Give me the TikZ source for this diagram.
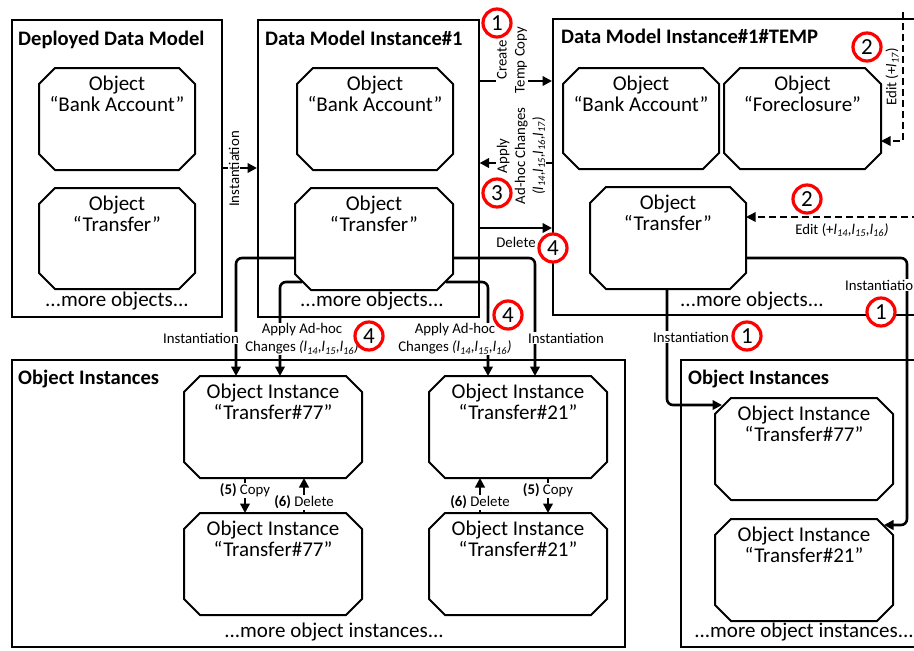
\documentclass[tikz,border=0pt]{standalone}
\usepackage{fontspec}
\setmainfont{Carlito}
\usetikzlibrary{arrows.meta}

\tikzset{
  frm/.style={draw, line width=1.6pt, inner sep=0pt, anchor=north west},
  obj/.style={inner sep=0pt, outer sep=1pt, anchor=north west},
  octline/.style={line width=2pt, line join=miter},
  otext/.style={anchor=north, inner sep=0pt, align=center, font=\fontsize{21}{21}\selectfont},
  ttl/.style={anchor=base west, inner sep=0pt, font=\fontsize{20.6}{21}\selectfont\bfseries},
  more/.style={anchor=base, inner sep=0pt, font=\fontsize{21}{21}\selectfont},
  conn/.style={line width=2.6pt, -{Triangle[length=9.5pt,width=9.5pt]}},
  dconn/.style={line width=1.4pt, dash pattern=on 7pt off 4pt, -{Triangle[length=9.5pt,width=9.5pt]}},
  lbl/.style={font=\fontsize{14.8}{18}\selectfont, inner sep=1pt, fill=white, align=center},
  num/.style={circle, draw=red, line width=3.2pt, minimum size=28pt, inner sep=0pt, fill=white, font=\fontsize{23}{23}\selectfont},
}

\begin{document}
\begin{tikzpicture}[x=1pt, y=-1pt]
\useasboundingbox (0,0) rectangle (914,651);

% ---------- frames ----------
\node[frm, minimum width=210pt, minimum height=297pt] (ddm) at (11,19) {};
\node[frm, minimum width=221pt, minimum height=297pt] (dmi) at (257,19) {};
\node[frm, minimum width=420pt, minimum height=296pt] (tmp) at (552,18) {};
\node[frm, minimum width=613pt, minimum height=287pt] (oiL) at (11,359) {};
\node[frm, minimum width=300pt, minimum height=287pt] (oiR) at (680,359) {};

\node[ttl] (ddmT) at (18,45) {Deployed Data Model};
\node[ttl] (dmiT) at (265,45) {Data Model Instance\#1};
\node[ttl] (tmpT) at (561,43) {Data Model Instance\#1\#TEMP};
\node[ttl] (oiLT) at (18,384) {Object Instances};
\node[ttl] (oiRT) at (688,384) {Object Instances};

% ---------- objects ----------
\node[obj, minimum width=154pt, minimum height=100pt] (ba1) at (39,68) {};
\node[obj, minimum width=154pt, minimum height=99pt]  (tr1) at (39,188) {};
\node[obj, minimum width=154pt, minimum height=100pt] (ba2) at (297,68) {};
\node[obj, minimum width=156pt, minimum height=100pt] (tr2) at (295,188) {};
\node[obj, minimum width=154pt, minimum height=99pt]  (ba3) at (563,68) {};
\node[obj, minimum width=155pt, minimum height=99pt]  (fc)  at (724,68) {};
\node[obj, minimum width=154pt, minimum height=100pt] (tr3) at (590,187) {};
\node[obj, minimum width=176pt, minimum height=100pt] (oA) at (184,376) {};
\node[obj, minimum width=176pt, minimum height=100pt] (oB) at (184,513) {};
\node[obj, minimum width=176pt, minimum height=100pt] (pA) at (429,376) {};
\node[obj, minimum width=176pt, minimum height=100pt] (pB) at (429,513) {};
\node[obj, minimum width=176pt, minimum height=100pt] (rA) at (715,398) {};
\node[obj, minimum width=176pt, minimum height=100pt] (rB) at (715,519) {};

\foreach \n in {ba1,tr1,ba2,tr2,ba3,fc,tr3,oA,oB,pA,pB,rA,rB}
  \draw[octline] ([xshift=16pt]\n.north west) -- ([xshift=-16pt]\n.north east)
    -- ([yshift=-16pt]\n.north east) -- ([yshift=16pt]\n.south east)
    -- ([xshift=-16pt]\n.south east) -- ([xshift=16pt]\n.south west)
    -- ([yshift=16pt]\n.south west) -- ([yshift=-16pt]\n.north west) -- cycle;

\node[otext] (ba1t) at ([yshift=-8pt]ba1.north) {Object\\“Bank Account”};
\node[otext] (tr1t) at ([yshift=-8pt]tr1.north) {Object\\“Transfer”};
\node[otext] (ba2t) at ([yshift=-8pt]ba2.north) {Object\\“Bank Account”};
\node[otext] (tr2t) at ([yshift=-8pt]tr2.north) {Object\\“Transfer”};
\node[otext] (ba3t) at ([yshift=-8pt]ba3.north) {Object\\“Bank Account”};
\node[otext] (fct)  at ([yshift=-8pt]fc.north)  {Object\\“Foreclosure”};
\node[otext] (tr3t) at ([yshift=-8pt]tr3.north) {Object\\“Transfer”};
\node[otext] (oAt) at ([yshift=-8pt]oA.north) {Object Instance\\“Transfer\#77”};
\node[otext] (oBt) at ([yshift=-8pt]oB.north) {Object Instance\\“Transfer\#77”};
\node[otext] (pAt) at ([yshift=-8pt]pA.north) {Object Instance\\“Transfer\#21”};
\node[otext] (pBt) at ([yshift=-8pt]pB.north) {Object Instance\\“Transfer\#21”};
\node[otext] (rAt) at ([yshift=-8pt]rA.north) {Object Instance\\“Transfer\#77”};
\node[otext] (rBt) at ([yshift=-8pt]rB.north) {Object Instance\\“Transfer\#21”};

\node[more] (m1) at (117,306) {...more objects...};
\node[more] (m2) at (372,306) {...more objects...};
\node[more] (m3) at (752,306) {...more objects...};
\node[more] (m4) at (334,637) {...more object instances...};
\node[more] (m5) at (804,637) {...more object instances...};

% ---------- helper levels ----------
\coordinate (yInst)  at (0,168);
\coordinate (yCopy)  at (0,81);
\coordinate (yApply) at (0,163);
\coordinate (yDel)   at (0,228);
\coordinate (yEditF) at (0,141);
\coordinate (yT)     at (0,258);
\coordinate (yB)     at (0,525);
\coordinate (xR)     at (907,0);
\coordinate (xL)     at (667,0);
\coordinate (editTop)   at (903,12);
\coordinate (editRight) at (930,217);

% ---------- model level connectors ----------
\draw[conn] (ddm.east |- yInst) -- (dmi.west |- yInst);
\draw[conn] (dmi.east |- yCopy) -- (tmp.west |- yCopy);
\draw[conn] (tmp.west |- yApply) -- (dmi.east |- yApply);
\draw[conn] (dmi.east |- yDel) -- (tmp.west |- yDel);
\draw[dconn] (editTop) |- (fc.east |- yEditF);
\draw[dconn] (editRight) -- (tr3.east |- editRight);

% ---------- instantiation connectors ----------
\draw[conn, rounded corners=6pt] (tr3.east |- yT) -| (xR |- yB) -- ([xshift=-9pt,yshift=-6pt]rB.north east);
\draw[conn, rounded corners=6pt] (xL |- tr3.south) |- ([xshift=7pt,yshift=-7pt]rA.north west);
\draw[conn, rounded corners=6pt] (tr2.west |- yT) -| ([xshift=52pt]oA.north west);
\draw[conn, rounded corners=6pt] ([xshift=7pt,yshift=8pt]tr2.south west) -| ([xshift=96pt]oA.north west);
\draw[conn, rounded corners=6pt] (tr2.east |- yT) -| ([xshift=106pt]pA.north west);
\draw[conn, rounded corners=6pt] ([xshift=-7pt,yshift=8pt]tr2.south east) -| ([xshift=59pt]pA.north west);

% ---------- copy / delete ----------
\draw[conn] ([xshift=61pt]oA.south west) -- ([xshift=61pt]oB.north west)
  node[lbl, pos=0.35] (c77) {\textbf{(5)} Copy};
\draw[conn] ([xshift=120pt]oB.north west) -- ([xshift=120pt]oA.south west)
  node[lbl, pos=0.3] (d77) {\textbf{(6)} Delete};
\draw[conn] ([xshift=51pt]pB.north west) -- ([xshift=51pt]pA.south west)
  node[lbl, pos=0.3] (d21) {\textbf{(6)} Delete};
\draw[conn] ([xshift=119pt]pA.south west) -- ([xshift=119pt]pB.north west)
  node[lbl, pos=0.35] (c21) {\textbf{(5)} Copy};

% ---------- labels ----------
\node[lbl, rotate=90] (lInst0) at (234,169) {Instantiation};
\node[lbl, rotate=90] (lCopy) at (512,60) {Create\\Temp Copy};
\node[lbl, rotate=90] (lApply) at (521,156) {Apply\\Ad-hoc Changes\\\textit{(l\textsubscript{14},l\textsubscript{15},l\textsubscript{16},l\textsubscript{17})}};
\node[lbl] (lDel) at (516,242) {Delete};
\node[lbl, rotate=90] (lEditF) at (892,77) {Edit (+\textit{l\textsubscript{17}})};
\node[lbl] (lEditT) at (842,230) {Edit (+\textit{l\textsubscript{14},l\textsubscript{15},l\textsubscript{16})}};
\node[lbl, anchor=west] (lInstR) at (844,285) {Instantiation};
\node[lbl] (lInstR2) at (691,337) {Instantiation};
\node[lbl, anchor=east] (lInstL) at (240,338) {Instantiation};
\node[lbl] (lAppL) at (302,339) {Apply Ad-hoc\\Changes \textit{(l\textsubscript{14},l\textsubscript{15},l\textsubscript{16})}};
\node[lbl] (lAppR) at (455,339) {Apply Ad-hoc\\Changes \textit{(l\textsubscript{14},l\textsubscript{15},l\textsubscript{16})}};
\node[lbl] (lInstM) at (566,338) {Instantiation};

% ---------- step numbers ----------
\node[num] (n1a) at (497,23) {1};
\node[num] (n3)  at (497,193) {3};
\node[num] (n4a) at (553,248) {4};
\node[num] (n2a) at (867,47) {2};
\node[num] (n2b) at (807,199) {2};
\node[num] (n1b) at (881,312) {1};
\node[num] (n1c) at (747,336) {1};
\node[num] (n4b) at (369,336) {4};
\node[num] (n4c) at (508,315) {4};
\end{tikzpicture}
\end{document}
